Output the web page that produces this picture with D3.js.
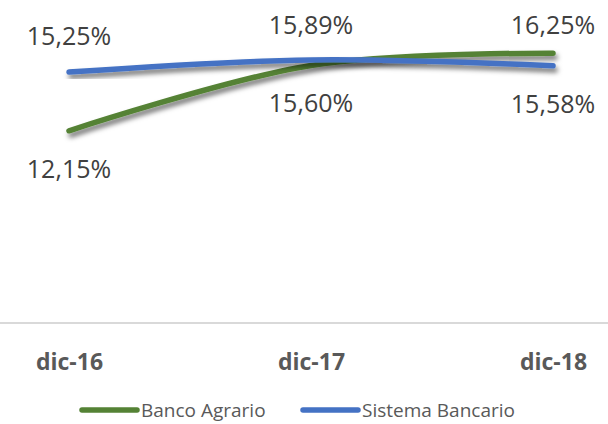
<!DOCTYPE html>
<html>
<head>
<meta charset="utf-8">
<script src="https://cdn.jsdelivr.net/npm/d3@7"></script>
<style>
  html, body { margin: 0; padding: 0; background: #fff; }
  svg { display: block; font-family: "Open Sans", sans-serif; }
</style>
</head>
<body>
<svg id="chart"></svg>
<script>
// Data
const categories = ['dic-16', 'dic-17', 'dic-18'];
const bancoAgrario = [12.15, 15.60, 16.25];
const sistemaBancario = [15.25, 15.89, 15.58];
const seriesNames = ['Banco Agrario', 'Sistema Bancario'];
const seriesColors = ['#548235', '#4472C4'];

// Chart dimensions
const width = 608;
const height = 424;

const svg = d3.select('#chart')
  .attr('width', width)
  .attr('height', height);

// Shadow for the lines
const defs = svg.append('defs');
const shadow = defs.append('filter')
  .attr('id', 'shadow')
  .attr('x', '-10%').attr('y', '-50%')
  .attr('width', '120%').attr('height', '200%');
shadow.append('feDropShadow')
  .attr('dx', 2).attr('dy', 4)
  .attr('stdDeviation', 2.5)
  .attr('flood-color', '#000')
  .attr('flood-opacity', 0.55);

// Scales
const xScale = d3.scalePoint()
  .domain(categories)
  .range([69, 553]);

const yScale = d3.scaleLinear()
  .domain([2, 18])
  .range([323, 20]);

// Horizontal axis line
svg.append('line')
  .attr('x1', 0).attr('x2', width)
  .attr('y1', yScale(2)).attr('y2', yScale(2))
  .attr('stroke', '#d9d9d9')
  .attr('stroke-width', 2);

// X-axis labels
const xAxis = d3.axisBottom(xScale).tickSize(0).tickPadding(0);
const gx = svg.append('g')
  .attr('transform', 'translate(0, 370)')
  .call(xAxis);
gx.select('.domain').remove();
gx.selectAll('text')
  .attr('dy', 0)
  .attr('y', 0)
  .attr('fill', '#595959')
  .attr('font-size', 23)
  .attr('font-weight', 'bold')
  .attr('font-family', '"Open Sans", sans-serif');

// Lines
const series = [bancoAgrario, sistemaBancario];
const line = d3.line()
  .x((d, i) => xScale(categories[i]))
  .y(d => yScale(d))
  .curve(d3.curveCatmullRom.alpha(0.5));

svg.selectAll('.series')
  .data(series)
  .enter().append('path')
  .attr('class', 'series')
  .attr('d', d => line(d))
  .attr('fill', 'none')
  .attr('stroke', (d, i) => seriesColors[i])
  .attr('stroke-width', 5.5)
  .attr('stroke-linecap', 'round')
  .attr('filter', 'url(#shadow)');

// Data labels: higher value above, lower value below
const fmt = v => v.toFixed(2).replace('.', ',') + '%';
const labels = [];
series.forEach((vals, s) => {
  vals.forEach((v, i) => {
    const other = series[1 - s][i];
    const above = v >= other;
    let y = yScale(v) + (above ? -27 : 47);
    if (above) y = Math.max(y, 34);
    let x = xScale(categories[i]);
    x = Math.min(x, width - 45);
    labels.push({ text: fmt(v), x: x, y: y });
  });
});

svg.selectAll('.label')
  .data(labels)
  .enter().append('text')
  .attr('class', 'label')
  .attr('x', d => d.x)
  .attr('y', d => d.y)
  .attr('text-anchor', 'middle')
  .attr('fill', '#404040')
  .attr('font-size', 25)
  .text(d => d.text);

// Legend
const legendX = [80, 301];
const legend = svg.selectAll('.legend')
  .data(seriesNames)
  .enter().append('g')
  .attr('class', 'legend')
  .attr('transform', (d, i) => `translate(${legendX[i]}, 410)`);

legend.append('line')
  .attr('x1', 2).attr('x2', 57)
  .attr('y1', 0).attr('y2', 0)
  .attr('stroke', (d, i) => seriesColors[i])
  .attr('stroke-width', 5.5)
  .attr('stroke-linecap', 'round');

legend.append('text')
  .attr('x', 61)
  .attr('y', 7)
  .attr('fill', '#595959')
  .attr('font-size', 19)
  .text(d => d);
</script>
</body>
</html>
